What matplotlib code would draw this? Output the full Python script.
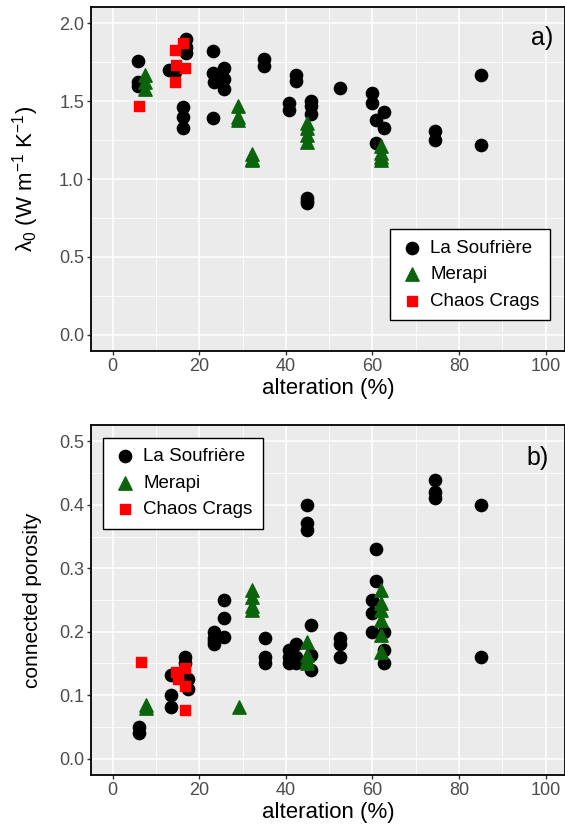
import numpy as np
import matplotlib
matplotlib.use("Agg")
import matplotlib.pyplot as plt
from matplotlib.ticker import MultipleLocator

plt.rcParams['font.family'] = ['Liberation Sans', 'DejaVu Sans']
plt.rcParams['mathtext.fontset'] = 'custom'
plt.rcParams['mathtext.rm'] = 'Liberation Sans'
plt.rcParams['mathtext.it'] = 'Liberation Sans:italic'

# panel a) thermal conductivity vs alteration
sou_a_x = [5.8, 5.8, 5.8, 13.1, 14.5, 17.0, 17.0, 17.0, 16.2, 16.2, 16.2,
           23.1, 23.1, 23.5, 23.1, 25.8, 25.8, 25.8, 35.0, 35.0,
           42.3, 42.3, 40.8, 40.8, 45.8, 45.8, 45.8, 45.0, 45.0, 45.0,
           52.5, 60.0, 60.0, 62.7, 60.8, 62.7, 60.8, 74.4, 74.4, 85.2, 85.2]
sou_a_y = [1.76, 1.62, 1.60, 1.70, 1.69, 1.90, 1.85, 1.81, 1.46, 1.40, 1.33,
           1.82, 1.68, 1.62, 1.39, 1.71, 1.64, 1.58, 1.77, 1.725,
           1.67, 1.63, 1.49, 1.445, 1.50, 1.47, 1.42, 0.88, 0.86, 0.845,
           1.585, 1.55, 1.49, 1.43, 1.38, 1.33, 1.23, 1.31, 1.25, 1.67, 1.22]
mer_a_x = [7.5, 7.5, 7.5, 28.9, 28.9, 28.9, 32.3, 32.3, 32.3,
           45.0, 45.0, 45.0, 45.0, 61.9, 61.9, 61.9, 61.9]
mer_a_y = [1.67, 1.62, 1.58, 1.47, 1.40, 1.38, 1.16, 1.13, 1.12,
           1.36, 1.33, 1.28, 1.24, 1.21, 1.17, 1.14, 1.12]
cha_a_x = [6.2, 14.3, 16.2, 14.7, 16.6, 14.3]
cha_a_y = [1.47, 1.83, 1.875, 1.735, 1.71, 1.62]

# panel b) connected porosity vs alteration
sou_b_x = [6.2, 6.2, 13.5, 13.5, 13.5, 16.6, 17.4, 17.4, 16.6,
           23.5, 23.5, 23.5, 23.5, 25.8, 25.8, 25.8, 35.3, 35.3, 35.3,
           40.8, 40.8, 40.8, 42.3, 42.3, 42.3, 45.8, 45.8, 45.8,
           45.0, 45.0, 45.0, 52.5, 52.5, 52.5,
           60.8, 60.8, 59.8, 59.8, 59.8, 62.7, 62.7, 62.7,
           74.4, 74.4, 74.4, 85.2, 85.2]
sou_b_y = [0.05, 0.04, 0.131, 0.10, 0.081, 0.16, 0.126, 0.11, 0.15,
           0.20, 0.19, 0.18, 0.185, 0.25, 0.221, 0.191, 0.19, 0.16, 0.151,
           0.171, 0.16, 0.151, 0.18, 0.16, 0.151, 0.21, 0.163, 0.14,
           0.40, 0.371, 0.361, 0.19, 0.18, 0.16,
           0.33, 0.28, 0.25, 0.23, 0.20, 0.20, 0.171, 0.15,
           0.44, 0.421, 0.411, 0.40, 0.16]
mer_b_x = [7.8, 7.8, 29.1, 32.3, 32.3, 32.3, 32.3, 45.0, 45.0, 45.0, 45.0,
           61.9, 61.9, 61.9, 61.9, 61.9, 61.9]
mer_b_y = [0.085, 0.08, 0.082, 0.265, 0.255, 0.24, 0.235, 0.184, 0.163, 0.155, 0.15,
           0.266, 0.245, 0.235, 0.218, 0.195, 0.168]
cha_b_x = [6.6, 14.7, 16.6, 15.0, 16.6, 16.6]
cha_b_y = [0.153, 0.137, 0.143, 0.126, 0.115, 0.077]

labels = ['La Soufrière', 'Merapi', 'Chaos Crags']
green = '#0B640B'

fig = plt.figure(figsize=(5.65, 8.34), dpi=100)
ax1 = fig.add_axes([91/565, 1-351/834, 474/565, 344/834])
ax2 = fig.add_axes([91/565, 1-775/834, 474/565, 350/834])


def style(ax, ylim, ymaj, ymin):
    ax.set_facecolor('#EBEBEB')
    ax.set_xlim(-5, 104.5)
    ax.set_ylim(*ylim)
    ax.xaxis.set_major_locator(MultipleLocator(20))
    ax.xaxis.set_minor_locator(MultipleLocator(10))
    ax.yaxis.set_major_locator(MultipleLocator(ymaj))
    ax.yaxis.set_minor_locator(MultipleLocator(ymin))
    ax.grid(which='major', color='white', linewidth=1.1)
    ax.grid(which='minor', color='white', linewidth=0.55)
    ax.set_axisbelow(True)
    ax.tick_params(which='major', length=3, width=1, color='#333333',
                   labelcolor='#4D4D4D', labelsize=13, pad=2)
    ax.tick_params(which='minor', length=0)
    for s in ax.spines.values():
        s.set_color('black')
        s.set_linewidth(1.3)
    ax.set_xlabel('alteration (%)', fontsize=16, labelpad=2)


def scatter(ax, sx, sy, mx, my, cx, cy):
    ax.scatter(sx, sy, s=78, marker='o', color='black', label=labels[0], zorder=3)
    ax.scatter(mx, my, s=92, marker='^', color=green, label=labels[1], zorder=3)
    ax.scatter(cx, cy, s=58, marker='s', color='red', label=labels[2], zorder=3)


def legend(ax, loc, anchor):
    leg = ax.legend(loc=loc, bbox_to_anchor=anchor, borderaxespad=0,
                    fontsize=13.5, fancybox=False, edgecolor='black', framealpha=1,
                    handletextpad=0.3, labelspacing=0.5, borderpad=0.55,
                    handlelength=1.3, scatterpoints=1)
    leg.get_frame().set_linewidth(1.0)


scatter(ax1, sou_a_x, sou_a_y, mer_a_x, mer_a_y, cha_a_x, cha_a_y)
style(ax1, (-0.105, 2.105), 0.5, 0.25)
ax1.yaxis.set_major_formatter(matplotlib.ticker.FormatStrFormatter('%.1f'))
ax1.set_ylabel(r'$\mathrm{\lambda_0\ (W\ m^{-1}\ K^{-1})}$', fontsize=16)
ax1.yaxis.set_label_coords(-0.106, 0.5)
ax1.text(0.975, 0.91, 'a)', transform=ax1.transAxes, fontsize=18,
         ha='right', va='center')
legend(ax1, 'lower right', (0.968, 0.09))

scatter(ax2, sou_b_x, sou_b_y, mer_b_x, mer_b_y, cha_b_x, cha_b_y)
style(ax2, (-0.026, 0.526), 0.1, 0.05)
ax2.yaxis.set_major_formatter(matplotlib.ticker.FormatStrFormatter('%.1f'))
ax2.set_ylabel('connected porosity', fontsize=15)
ax2.yaxis.set_label_coords(-0.103, 0.5)
ax2.text(0.965, 0.905, 'b)', transform=ax2.transAxes, fontsize=18,
         ha='right', va='center')
legend(ax2, 'upper left', (0.025, 0.963))

plt.savefig('out.png', dpi=100)
